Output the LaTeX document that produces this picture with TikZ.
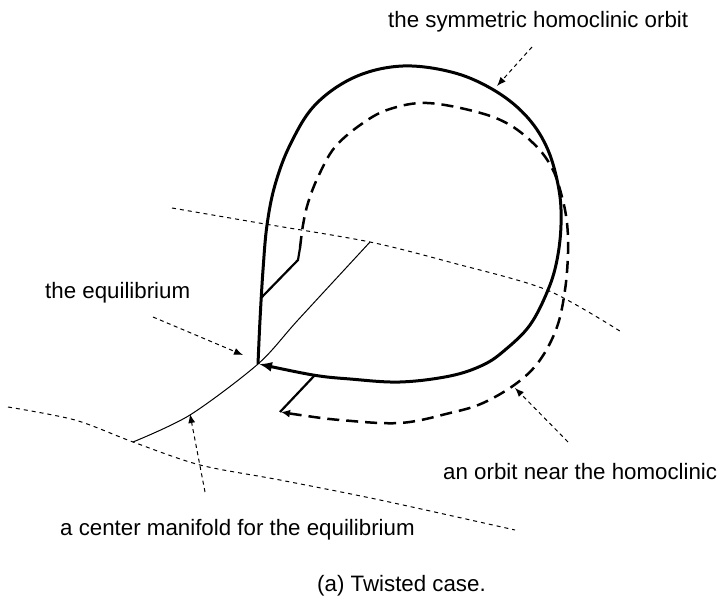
\documentclass[tikz,border=0pt]{standalone}
\usepackage{fontspec}
\setmainfont{Liberation Sans}
\usetikzlibrary{arrows.meta}
\begin{document}
\begin{tikzpicture}[x=1pt,y=-1pt,
  lbl/.style={font=\fontsize{22.3}{26}\selectfont, anchor=base west, inner sep=0pt},
  section/.style={line width=1pt, dash pattern=on 4pt off 4pt},
  pointer/.style={line width=1pt, dash pattern=on 4pt off 3.5pt, -{Latex[length=9pt,width=7pt]}},
  homo/.style={line width=3pt},
  jump/.style={line width=2.2pt},
  near/.style={line width=2.5pt, dash pattern=on 12pt off 7pt},
]
\useasboundingbox (0,0) rectangle (725,601);

% sections
\draw[section] plot[smooth] coordinates {(172,208) (265,224) (370,242) (453,263) (547,290) (623,333)};
\draw[section] plot[smooth] coordinates {(8,407) (75,420) (133,442) (200,465) (280,480) (380,500) (515,530)};

% center manifold
\coordinate (E) at (258,364);
\draw[line width=1pt] plot[smooth] coordinates {(133,442) (190,415) (258,364) (298,320) (370,242)};

% homoclinic orbit
\draw[homo, -{Latex[length=13pt,width=10pt]}] plot[smooth, tension=0.6] coordinates {(258,364) (260,320) (263,270) (267,225) (275,185) (290,145) (315,105) (355,77) (403,66) (455,73) (497,92) (528,118) (548,150) (559,190) (561,225) (557,260) (548,290) (530,325) (505,350) (483,365) (450,376) (400,382) (350,379) (313,375) (259,364)};

% nearby orbit
\coordinate (J1) at (261,298);
\coordinate (J2) at (298,260);
\coordinate (J3) at (300,248);
\draw[jump] (J1) -- (J2) -- (J3);
\draw[near, -{Latex[length=9pt,width=8pt]}] plot[smooth, tension=0.6] coordinates {(300,248) (303,225) (308,203) (318,177) (335,147) (363,123) (390,109) (427,103) (477,112) (510,125) (537,147) (553,170) (562,197) (567,223) (568,253) (565,290) (557,327) (540,360) (517,383) (483,403) (450,413) (400,423) (340,420) (300,415) (281,412)};
\coordinate (K1) at (315,375);
\coordinate (K2) at (280,412);
\draw[jump] (K1) -- (K2);

% labels
\node[lbl] (lsym) at (388,28) {the symmetric homoclinic orbit};
\node[lbl] (leq) at (45,299) {the equilibrium};
\node[lbl] (lnear) at (443,479) {an orbit near the homoclinic};
\node[lbl] (lcm) at (60,535) {a center manifold for the equilibrium};
\node[lbl] (lcap) at (317,591) {(a) Twisted case.};

% pointers
\coordinate (p1s) at (532,47);  \coordinate (p1e) at (497,86);
\coordinate (p2s) at (153,317); \coordinate (p2e) at (243,355);
\coordinate (p3s) at (205,492); \coordinate (p3e) at (190,414);
\coordinate (p4s) at (568,442); \coordinate (p4e) at (515,388);
\draw[pointer] (p1s) -- (p1e);
\draw[pointer] (p2s) -- (p2e);
\draw[pointer] (p3s) -- (p3e);
\draw[pointer] (p4s) -- (p4e);
\end{tikzpicture}
\end{document}
